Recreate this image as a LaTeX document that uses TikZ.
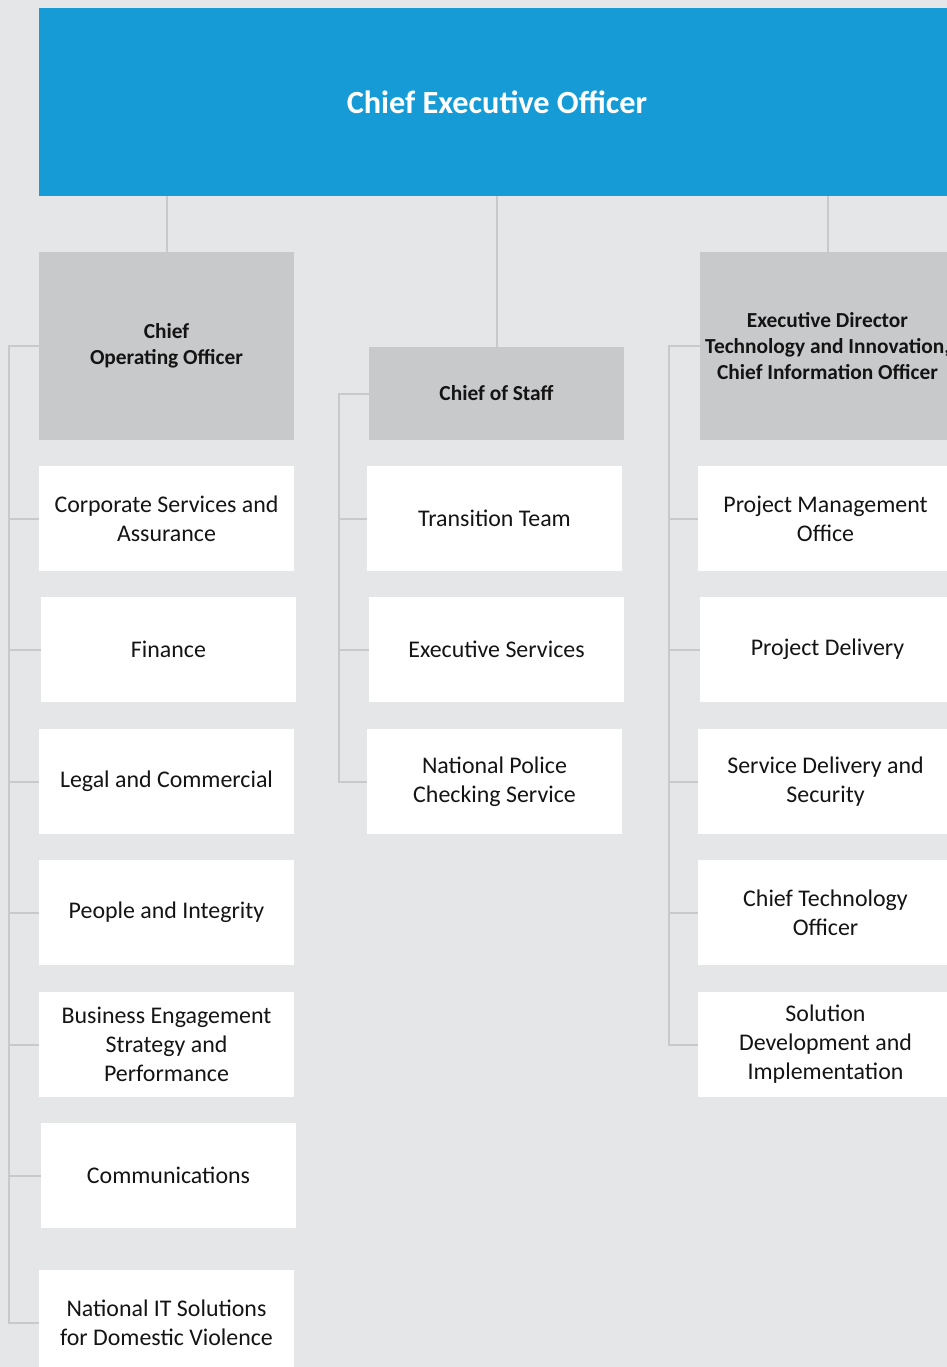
\documentclass[tikz,border=0pt]{standalone}
\usepackage{fontspec}
\setmainfont{Carlito}
\definecolor{bgc}{RGB}{229,230,232}
\definecolor{ceoblue}{RGB}{23,155,215}
\definecolor{headgrey}{RGB}{200,201,203}
\definecolor{linegrey}{RGB}{200,201,203}
\definecolor{txt}{RGB}{20,20,20}
\begin{document}
\begin{tikzpicture}[x=1pt,y=-1pt,
  unit/.style={rectangle, fill=white, minimum width=255pt, minimum height=105pt, inner sep=0pt, align=center, text=txt, font=\fontsize{23.9}{29}\selectfont},
  head/.style={rectangle, fill=headgrey, minimum width=255pt, inner sep=0pt, align=center, text=txt, font=\fontsize{21.4}{26}\selectfont\bfseries},
  link/.style={draw=linegrey, line width=2pt}]
\useasboundingbox (0,0) rectangle (947,1367);
\clip (0,0) rectangle (947,1367);
\fill[bgc] (0,0) rectangle (947,1367);
% top
\node[rectangle, fill=ceoblue, minimum width=916pt, minimum height=188pt, inner sep=0pt, text=white, font=\fontsize{32.3}{38}\selectfont\bfseries] (ceo) at (497,102) {Chief Executive Officer};
% heads
\node[head, minimum height=188pt] (coo) at (166.5,346) {Chief\\Operating Officer};
\node[head, minimum height=93pt] (cos) at (496.5,393.5) {Chief of Staff};
\node[head, minimum height=188pt] (ed) at (827.5,346) {Executive Director\\Technology and Innovation,\\Chief Information Officer};
% left column
\node[unit] (corp) at (166.5,518.5) {Corporate Services and\\Assurance};
\node[unit] (fin) at (168.5,649.5) {Finance};
\node[unit] (legal) at (166.5,781.5) {Legal and Commercial};
\node[unit] (people) at (166.5,912.5) {People and Integrity};
\node[unit] (besp) at (166.5,1044.5) {Business Engagement\\Strategy and\\Performance};
\node[unit] (comms) at (168.5,1175.5) {Communications};
\node[unit] (nits) at (166.5,1322.5) {National IT Solutions\\for Domestic Violence};
% middle column
\node[unit] (trans) at (494.5,518.5) {Transition Team};
\node[unit] (exec) at (496.5,649.5) {Executive Services};
\node[unit] (npcs) at (494.5,781.5) {National Police\\Checking Service};
% right column
\node[unit] (pmo) at (825.5,518.5) {Project Management\\Office};
\node[unit] (pd) at (827.5,649.5) {Project Delivery};
\node[unit] (sds) at (825.5,781.5) {Service Delivery and\\Security};
\node[unit] (cto) at (825.5,912.5) {Chief Technology\\Officer};
\node[unit] (sdi) at (825.5,1044.5) {Solution\\Development and\\Implementation};
% bus coordinates
\coordinate (lbus) at (9,0);
\coordinate (mbus) at (339,0);
\coordinate (rbus) at (669,0);
% CEO links
\draw[link] (coo.north |- ceo.south) -- (coo.north);
\draw[link] (cos.north |- ceo.south) -- (cos.north);
\draw[link] (ed.north |- ceo.south) -- (ed.north);
% left bus
\draw[link] (coo.west) -| (lbus |- nits.west) -- (nits.west);
\foreach \n in {corp,fin,legal,people,besp,comms}
  \draw[link] (lbus |- \n.west) -- (\n.west);
% middle bus
\draw[link] (cos.west) -| (mbus |- npcs.west) -- (npcs.west);
\foreach \n in {trans,exec}
  \draw[link] (mbus |- \n.west) -- (\n.west);
% right bus
\draw[link] (ed.west) -| (rbus |- sdi.west) -- (sdi.west);
\foreach \n in {pmo,pd,sds,cto}
  \draw[link] (rbus |- \n.west) -- (\n.west);
\end{tikzpicture}
\end{document}
